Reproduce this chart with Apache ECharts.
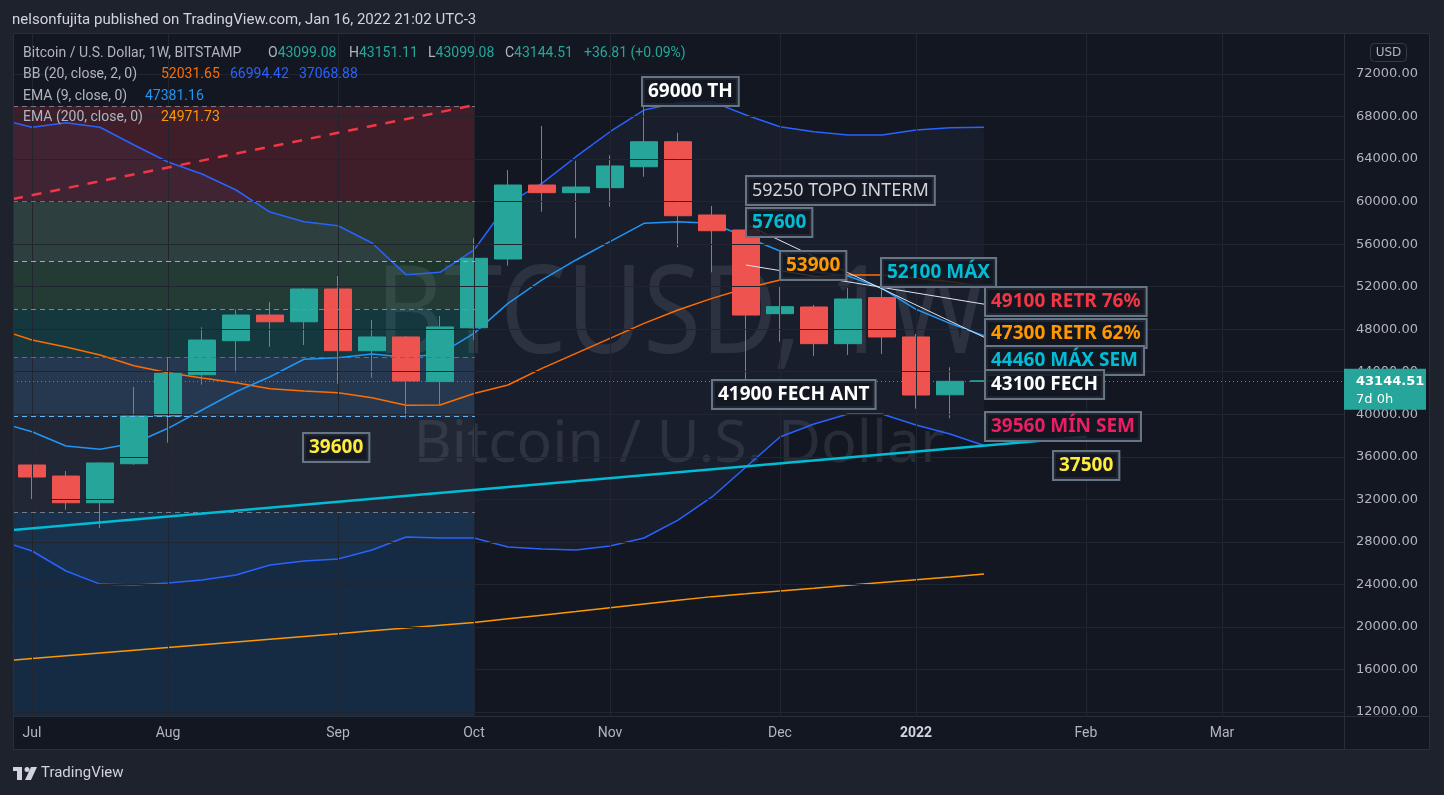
<!DOCTYPE html>
<html><head><meta charset="utf-8">
<script src="https://cdn.jsdelivr.net/npm/echarts@6/dist/echarts.min.js"></script>
<style>html,body{margin:0;padding:0;background:#1e222d;}#c{width:1444px;height:795px;}</style>
</head><body><div id="c"></div>
<script>
// ---------- DATA ----------
// week index 0 = week of 2021-07-05 (weekly candles, BITSTAMP BTCUSD)
const weekIdx = [-1,0,1,2,3,4,5,6,7,8,9,10,11,12,13,14,15,16,17,18,19,20,21,22,23,24,25,26,27,28];
const candleIdx = [0,1,2,3,4,5,6,7,8,9,10,11,12,13,14,15,16,17,18,19,20,21,22,23,24,25,26,27,28];
const open  = [35230,34190,31680,35350,39830,43720,46920,49330,48700,51780,45980,47270,43070,48140,54600,61560,60840,61310,63280,65630,58740,57330,49460,50090,46640,50970,47270,41830,43099.08];
const close = [34100,31680,35420,39830,43850,46980,49330,48700,51780,45980,47270,43130,48210,54670,61560,60840,61370,63350,65630,58670,57260,49330,50120,46640,50840,47270,41810,43100,43144.51];
const low   = [32030,31030,29300,35250,37330,42780,43910,46350,46510,42870,43440,39620,40870,46980,53970,59050,56550,59520,62340,55700,53350,42000,46830,45480,45570,45670,40530,39620,43099.08];
const high  = [35250,34660,35450,42560,45290,48180,49870,50560,51850,53000,48860,47360,49240,56550,62970,67110,63850,64350,68930,66480,59590,57450,52000,50280,51900,51900,47550,44420,43151.11];

const bbUpper = [67800,66990,67420,66990,65320,63720,62600,61090,59020,58110,57730,56110,53130,53350,55450,59840,61720,64220,66570,68610,69300,69400,68140,67040,66570,66260,66260,66730,66950,66994.42];
const bbBasis = [48020,46980,46325,45570,44570,43910,43410,42970,42400,42190,42030,41560,40840,40870,41950,42750,44320,45730,47140,48550,49800,50900,51850,52630,52940,53100,53100,52790,52470,52031.65];
const bbLower = [28170,27140,25260,24030,23940,24130,24410,24880,25820,26200,26390,27230,28460,28360,28360,27510,27330,27230,27610,28360,30050,32220,35040,37860,39080,40020,40020,38990,38140,37068.88];
const ema9    = [39270,38360,37010,36700,37270,38680,40400,42120,43530,45170,45320,45670,45360,45670,47610,50430,52630,54510,56230,57960,58110,57960,56670,55350,53410,53000,51850,49870,48550,47381.16];
const ema200  = [16770,17030,17290,17550,17810,18070,18330,18590,18850,19110,19370,19630,19890,20150,20410,20760,21110,21450,21800,22150,22500,22850,23110,23380,23640,23910,24170,24440,24700,24971.73];

const monthIdx = [0,4,9,13,17,22,26,31,35];
const monthLabels = ['Jul','Aug','Sep','Oct','Nov','Dec','2022','Feb','Mar'];
const priceTicks = [12000,16000,20000,24000,28000,32000,36000,40000,44000,48000,52000,56000,60000,64000,68000,72000];
const lastPrice = 43144.51;

// Fibonacci retracement levels (69000 -> 30800) drawn from Jul to Oct 4
const fibPrices = [69000,60000,54400,49900,45400,39800,30800];
const fibEndIdx = 13.03;

// trend lines [[weekIdx, price], [weekIdx, price]]
const supportLine = [[-0.56,29115],[31.02,37890]];
const redDashLine = [[-0.56,60245],[13.03,69085]];
const whiteLineA  = [[21.0,57865],[28.03,47200]];
const whiteLineB  = [[21.0,54037],[28.03,50340]];

// annotations (box top-left anchored at [weekIdx, price])
const annoText  = ['69000 TH','59250 TOPO INTERM','57600','53900','52100 MÁX','49100 RETR 76%','47300 RETR 62%','44460 MÁX SEM','43100 FECH','41900 FECH ANT','39560 MÍN SEM','37500','39600'];
const annoX     = [17.94,21.0,21.0,22.0,24.97,28.02,28.02,28.02,28.02,19.99,28.02,30.02,7.97];
const annoY     = [71718,62407,59398,55382,54724,52000,48930,46450,44160,43222,40241,36575,38243];
const annoColor = ['#ffffff','#d1d4dc','#00bcd4','#ff9800','#00bcd4','#f23645','#ff9800','#00bcd4','#ffffff','#ffffff','#e91e63','#ffeb3b','#ffeb3b'];
const annoFont  = ['bold 19px','18px','bold 19px','bold 19px','bold 19px','bold 19px','bold 19px','bold 19px','bold 19px','bold 19px','bold 19px','bold 19px','bold 19px'];

// ---------- LAYOUT ----------
const xMin = -0.56, xMax = 38.59, yMin = 11624, yMax = 75855;
const fibZoneColors = ['rgba(242,54,69,0.2)','rgba(129,199,132,0.2)','rgba(76,175,80,0.2)','rgba(8,153,129,0.22)','rgba(100,181,246,0.18)','rgba(120,123,134,0.1)','rgba(33,150,243,0.16)'];
const fibLineColors = ['#787b86','#f23645','#81c784','#4caf50','#089981','#64b5f6','#787b86'];

const chart = echarts.init(document.getElementById('c'), null, {renderer:'canvas'});
const pairs = arr => weekIdx.map((x,i)=>[x, arr[i]]);
const lineS = (data, color, width, z, extra) => Object.assign({type:'line', data, symbol:'none', silent:true, z, lineStyle:{color, width}}, extra||{});

// fib zones & lines
const fibAreas = [];
for (let i=1;i<fibPrices.length;i++){
  fibAreas.push([{xAxis:xMin, yAxis:fibPrices[i-1], itemStyle:{color:fibZoneColors[i-1]}},{xAxis:fibEndIdx, yAxis:fibPrices[i]}]);
}
fibAreas.push([{xAxis:xMin, yAxis:fibPrices[fibPrices.length-1], itemStyle:{color:fibZoneColors[6]}},{xAxis:fibEndIdx, yAxis:yMin}]);
const fibLines = fibPrices.map((p,i)=>[{coord:[xMin,p], lineStyle:{color:fibLineColors[i], type:[5,4], width:1}},{coord:[fibEndIdx,p]}]);

const option = {
  backgroundColor:'#131722',
  animation:false,
  grid:{left:13,right:100,top:33,bottom:79},
  xAxis:{type:'value', min:xMin, max:xMax,
    axisLine:{show:true, lineStyle:{color:'#2a2e39'}}, axisTick:{show:false}, splitLine:{show:false},
    axisLabel:{customValues:monthIdx, margin:17, verticalAlign:'middle', color:'#b2b5be', fontSize:14, fontFamily:'Roboto',
      formatter:v=>{const k=monthIdx.indexOf(Math.round(v)); const t=k>=0?monthLabels[k]:''; return t==='2022'?'{b|2022}':t;},
      rich:{b:{fontWeight:'bold', color:'#d1d4dc', fontSize:14, fontFamily:'Roboto'}}}},
  yAxis:{type:'value', position:'right', min:yMin, max:yMax, scale:true,
    axisLine:{show:true, lineStyle:{color:'#2a2e39'}}, axisTick:{show:false}, splitLine:{show:false},
    axisLabel:{customValues:priceTicks, margin:12, color:'#b2b5be', fontSize:13, fontFamily:'DejaVu Sans', formatter:v=>v.toFixed(2)}},
  series:[
    // grid lines
    {type:'line', data:[], z:1, silent:true, markLine:{silent:true, symbol:['none','none'], label:{show:false},
      lineStyle:{color:'#21252f', width:1, type:'solid'},
      data:[...priceTicks.map(v=>({yAxis:v})), ...monthIdx.map(v=>({xAxis:v}))]}},
    // BB background fill (polygon between upper and lower band)
    {type:'custom', z:2, silent:true, clip:true, data:[[0, bbBasis[1]]],
      renderItem:(params, api)=>{
        const pts = [];
        for (let i=0;i<weekIdx.length;i++) pts.push(api.coord([weekIdx[i], bbUpper[i]]));
        for (let i=weekIdx.length-1;i>=0;i--) pts.push(api.coord([weekIdx[i], bbLower[i]]));
        return {type:'polygon', shape:{points:pts}, style:{fill:'rgba(110,140,200,0.065)'}};
      }},
    lineS(pairs(ema200), '#ff9800', 1.5, 3),
    lineS(pairs(bbBasis), '#ff6d00', 1.5, 3),
    lineS(pairs(bbUpper), '#2962ff', 1.5, 3),
    lineS(pairs(bbLower), '#2962ff', 1.5, 3),
    lineS(pairs(ema9), '#2196f3', 1.5, 3),
    {type:'candlestick', z:4, silent:true, barWidth:27,
      data:candleIdx.map((x,i)=>[x, open[i], close[i], low[i], high[i]]),
      itemStyle:{color:'#26a69a', color0:'#ef5350', borderColor:'#26a69a', borderColor0:'#ef5350', borderWidth:1},
      markLine:{silent:true, symbol:['none','none'], label:{show:false}, lineStyle:{color:'#26a69a', type:[1,3], width:1}, data:[{yAxis:lastPrice}]}},
    // fib overlay
    {type:'line', data:[], z:5, silent:true,
      markArea:{silent:true, data:fibAreas},
      markLine:{silent:true, symbol:['none','none'], label:{show:false}, data:fibLines}},
    lineS(supportLine, '#00bcd4', 2.5, 6),
    lineS(redDashLine, '#f23645', 2.5, 6, {lineStyle:{color:'#f23645', width:2.5, type:[10,9]}}),
    lineS(whiteLineA, '#e0e3eb', 1, 6),
    lineS(whiteLineB, '#e0e3eb', 1, 6)
  ]
};
chart.setOption(option);

// ---------- GRAPHIC OVERLAYS ----------
const G = [];
// watermark
G.push({type:'text', x:681, y:318, z:0, scaleX:0.86, silent:true, style:{x:0,y:0,text:'BTCUSD, 1W', align:'center', verticalAlign:'middle', font:'122px "Noto Sans"', fill:'rgba(120,123,134,0.22)'}});
G.push({type:'text', x:679, y:445, z:0, silent:true, style:{text:'Bitcoin / U.S. Dollar', align:'center', verticalAlign:'middle', font:'59px "Noto Sans"', fill:'rgba(120,123,134,0.22)'}});
// outer frame
const outer = '#1e222d';
G.push({type:'rect', z:50, silent:true, shape:{x:0,y:0,width:1444,height:33}, style:{fill:outer}});
G.push({type:'rect', z:50, silent:true, shape:{x:0,y:0,width:13,height:795}, style:{fill:outer}});
G.push({type:'rect', z:50, silent:true, shape:{x:1430,y:0,width:14,height:795}, style:{fill:outer}});
G.push({type:'rect', z:50, silent:true, shape:{x:0,y:750,width:1444,height:45}, style:{fill:outer}});
G.push({type:'rect', z:51, silent:true, shape:{x:13.5,y:33.5,width:1416,height:716}, style:{fill:'none', stroke:'#2a2e39', lineWidth:1}});
G.push({type:'line', z:51, silent:true, shape:{x1:1344.5,y1:33,x2:1344.5,y2:750}, style:{stroke:'#2a2e39', lineWidth:1}});
G.push({type:'line', z:51, silent:true, shape:{x1:13,y1:716.5,x2:1430,y2:716.5}, style:{stroke:'#2a2e39', lineWidth:1}});
// header
G.push({type:'text', x:12, y:20, z:60, silent:true, style:{text:'nelsonfujita published on TradingView.com, Jan 16, 2022 21:02 UTC-3', verticalAlign:'middle', font:'15px Roboto', fill:'#d1d4dc'}});
// legend
const lg = (x,y,parts)=>{ // parts: [[text,color],...]
  let txt=''; const rich={};
  parts.forEach((p,i)=>{ rich['p'+i]={fill:p[1], font:'14px Roboto'}; txt+='{p'+i+'|'+p[0]+'}'; });
  G.push({type:'text', x, y, z:60, silent:true, style:{text:txt, rich, verticalAlign:'middle', font:'14px Roboto'}});
};
const gry='#b2b5be', tl='#26a69a';
lg(23,53,[['Bitcoin / U.S. Dollar, 1W, BITSTAMP',gry]]);
lg(268,53,[['O',gry],['43099.08',tl]]);
lg(349,53,[['H',gry],['43151.11',tl]]);
lg(428,53,[['L',gry],['43099.08',tl]]);
lg(505,53,[['C',gry],['43144.51',tl]]);
lg(584,53,[['+36.81 (+0.09%)',tl]]);
lg(23,74,[['BB (20, close, 2, 0)',gry]]);
lg(161,74,[['52031.65','#ff6d00']]);
lg(230,74,[['66994.42','#2962ff']]);
lg(299,74,[['37068.88','#2962ff']]);
lg(23,96,[['EMA (9, close, 0)',gry]]);
lg(145,96,[['47381.16','#2196f3']]);
lg(23,117,[['EMA (200, close, 0)',gry]]);
lg(161,117,[['24971.73','#ff9800']]);
// USD box
G.push({type:'rect', z:60, silent:true, shape:{x:1370.5,y:43.5,width:36,height:18,r:4}, style:{fill:'none', stroke:'#363a45', lineWidth:1}});
G.push({type:'text', x:1388.5, y:52.5, z:61, silent:true, style:{text:'USD', align:'center', verticalAlign:'middle', font:'12px "DejaVu Sans"', fill:'#b2b5be'}});
// last price label on axis
const lp = chart.convertToPixel({gridIndex:0}, [xMin, lastPrice]);
G.push({type:'rect', z:60, silent:true, shape:{x:1344, y:lp[1]-12, width:82, height:41}, style:{fill:'#26a69a'}});
G.push({type:'text', x:1356, y:lp[1]+1, z:61, silent:true, style:{text:lastPrice.toFixed(2), verticalAlign:'middle', font:'bold 13px "DejaVu Sans"', fill:'#ffffff'}});
G.push({type:'text', x:1356, y:lp[1]+19, z:61, silent:true, style:{text:'7d 0h', verticalAlign:'middle', font:'13px "DejaVu Sans"', fill:'#ffffff'}});
// annotation boxes
annoText.forEach((t,i)=>{
  const p = chart.convertToPixel({gridIndex:0}, [annoX[i], annoY[i]]);
  G.push({type:'text', x:Math.round(p[0])+1, y:Math.round(p[1])+1, z:100, silent:true,
    style:{text:t, align:'left', verticalAlign:'top', fill:annoColor[i],
      font:annoFont[i]+' "Noto Sans"', lineHeight:21, padding:[3,5,3,5],
      backgroundColor:'rgba(19,23,34,0.85)', borderColor:'#687585', borderWidth:2}});
});
// TradingView logo
G.push({type:'rect', z:60, silent:true, shape:{x:13,y:767,width:9,height:4}, style:{fill:'#d1d4dc'}});
G.push({type:'rect', z:60, silent:true, shape:{x:17,y:767,width:5,height:13}, style:{fill:'#d1d4dc'}});
G.push({type:'circle', z:60, silent:true, shape:{cx:27,cy:769.5,r:2.5}, style:{fill:'#d1d4dc'}});
G.push({type:'polygon', z:60, silent:true, shape:{points:[[31,767],[37,767],[31,780],[25,780]]}, style:{fill:'#d1d4dc'}});
G.push({type:'text', x:41, y:773, z:60, silent:true, style:{text:'TradingView', verticalAlign:'middle', font:'15px Roboto', fill:'#d1d4dc'}});

chart.setOption({graphic:G});
</script></body></html>
